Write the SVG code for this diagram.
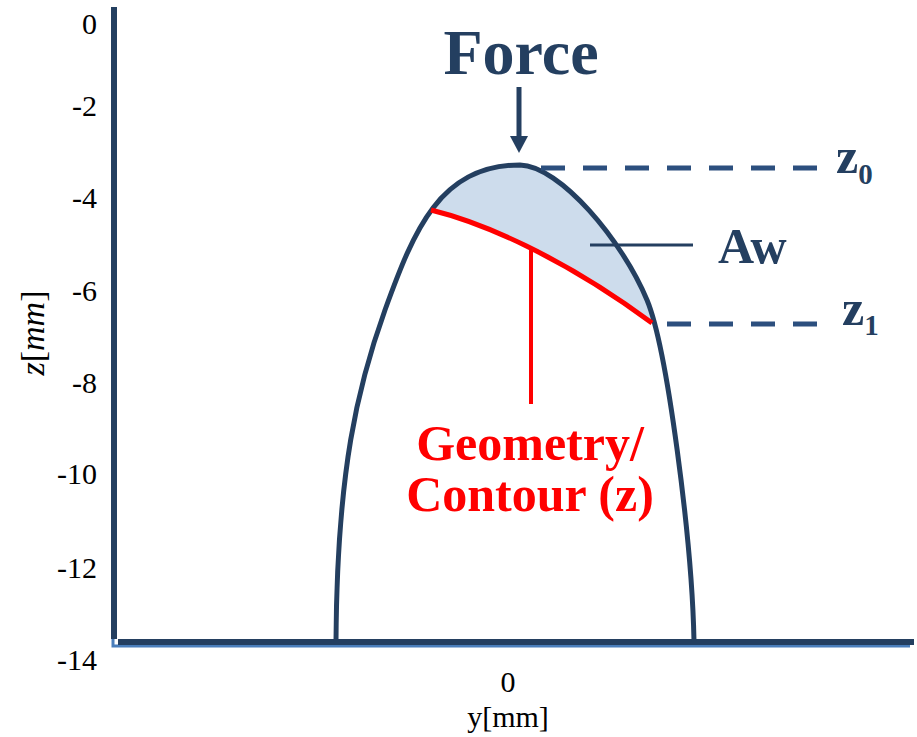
<svg xmlns="http://www.w3.org/2000/svg" width="917" height="737" viewBox="0 0 917 737">
<style>
.tick{font-family:"Liberation Serif",serif;font-size:30px;fill:#000;text-anchor:end}
.navy{stroke:#243f60;fill:none}
.lbl{font-family:"Liberation Serif",serif;font-weight:bold;fill:#243f60}
.red{font-family:"Liberation Serif",serif;font-weight:bold;font-size:50px;fill:#ff0000;text-anchor:middle}
.dash{stroke:#2c4f7e;stroke-width:5;stroke-dasharray:24 18;fill:none}
</style>
<rect width="917" height="737" fill="#fff"/>
<g id="axes">
<polyline points="113,639 113,646 910,646" fill="none" stroke="#4a7ebb" stroke-width="3"/>
<line x1="114" y1="7" x2="114" y2="639" class="navy" stroke-width="6"/>
<line x1="118" y1="642" x2="914" y2="642" class="navy" stroke-width="6"/>
<text class="tick" x="97" y="34">0</text>
<text class="tick" x="97" y="116">-2</text>
<text class="tick" x="97" y="208">-4</text>
<text class="tick" x="97" y="301">-6</text>
<text class="tick" x="97" y="393">-8</text>
<text class="tick" x="97" y="484">-10</text>
<text class="tick" x="97" y="578">-12</text>
<text class="tick" x="97" y="670">-14</text>
<text transform="translate(44,333) rotate(-90)" font-family="Liberation Serif,serif" font-size="34" text-anchor="middle"><tspan font-style="italic">z</tspan>[<tspan font-style="italic">mm</tspan>]</text>
<text x="508" y="692" font-family="Liberation Serif,serif" font-size="30" text-anchor="middle">0</text>
<text x="508" y="727" font-family="Liberation Serif,serif" font-size="30" text-anchor="middle">y[mm]</text>
</g>
<g id="aw-area">
<path d="M431,210 C437,203 441,198 446,194 C470,170 490,165 520,165 C560,166 622,240 647,300 L652,323 C560,255 480,222 431,210 Z" fill="#cddcec"/>
</g>
<g id="dome">
<path d="M336,641 C337,470 358,385 385,310 C414,230 440,165 520,165 C560,166 622,240 647,300 C667,348 692,540 694,641" class="navy" stroke-width="5"/>
</g>
<g id="contour">
<path d="M431,210 C480,222 560,255 652,323" fill="none" stroke="#ff0000" stroke-width="5"/>
<line x1="531" y1="249" x2="531" y2="404" stroke="#ff0000" stroke-width="4"/>
<text class="red" x="530" y="460">Geometry/</text>
<text class="red" x="530" y="511">Contour (z)</text>
</g>
<g id="force">
<text class="lbl" x="521" y="74" font-size="64" text-anchor="middle">Force</text>
<line x1="519" y1="87" x2="519" y2="138" stroke="#243f60" stroke-width="5"/>
<polygon points="510,136 528,136 519,153" fill="#243f60"/>
</g>
<g id="connectors">
<line x1="541" y1="168" x2="817" y2="168" class="dash"/>
<line x1="667" y1="324" x2="817" y2="324" class="dash"/>
<line x1="590" y1="245" x2="693" y2="245" stroke="#243f60" stroke-width="3"/>
</g>
<g id="z0">
<text class="lbl" x="836" y="173" font-size="50">z<tspan font-size="29" dy="11">0</tspan></text>
</g>
<g id="z1">
<text class="lbl" x="842" y="325" font-size="50">z<tspan font-size="29" dy="10">1</tspan></text>
</g>
<g id="aw">
<text class="lbl" x="718" y="263" font-size="50">Aw</text>
</g>
</svg>
